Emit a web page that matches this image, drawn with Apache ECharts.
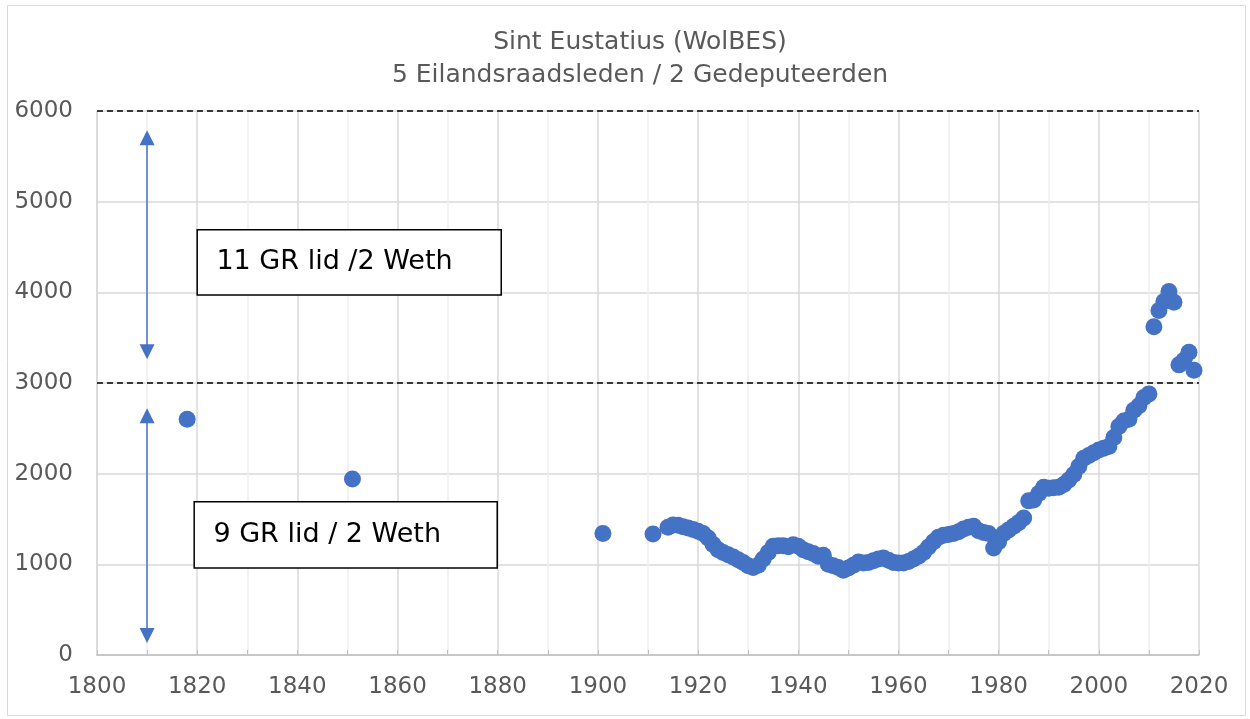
<!DOCTYPE html>
<html lang="nl">
<head>
    <meta charset="utf-8"/>
    <title>Sint Eustatius (WolBES)</title>
    <script src="https://cdn.jsdelivr.net/npm/echarts@6/dist/echarts.min.js"></script>
    <style>
        html, body { margin: 0; padding: 0; background: #fff; }
    </style>
</head>
<body>
<div id="main" style="width: 1250px;height: 719px;"></div>
<script type="text/javascript">

    // jaartallen en inwoneraantallen
    var years = [1818, 1851, 1901, 1911,
        1914, 1915, 1916, 1917, 1918, 1919, 1920, 1921, 1922, 1923, 1924, 1925, 1926, 1927, 1928, 1929,
        1930, 1931, 1932, 1933, 1934, 1935, 1936, 1937, 1938, 1939, 1940, 1941, 1942, 1943, 1944, 1945,
        1946, 1947, 1948, 1949, 1950, 1951, 1952, 1953, 1954, 1955, 1956, 1957, 1958, 1959, 1960, 1961,
        1962, 1963, 1964, 1965, 1966, 1967, 1968, 1969, 1970, 1971, 1972, 1973, 1974, 1975, 1976, 1977,
        1978, 1979, 1980, 1981, 1982, 1983, 1984, 1985, 1986, 1987, 1988, 1989, 1990, 1991, 1992, 1993,
        1994, 1995, 1996, 1997, 1998, 1999, 2000, 2001, 2002, 2003, 2004, 2005, 2006, 2007, 2008, 2009,
        2010, 2011, 2012, 2013, 2014, 2015, 2016, 2017, 2018, 2019];
    var inwoners = [2600, 1940, 1340, 1335,
        1410, 1435, 1430, 1415, 1400, 1385, 1365, 1340, 1290, 1220, 1160, 1130, 1105, 1080, 1050, 1020,
        985, 965, 990, 1060, 1130, 1200, 1205, 1205, 1195, 1215, 1200, 1160, 1140, 1120, 1090, 1100,
        1000, 985, 965, 935, 960, 990, 1025, 1015, 1020, 1040, 1060, 1070, 1045, 1020, 1015, 1015,
        1030, 1060, 1090, 1130, 1190, 1250, 1300, 1320, 1330, 1340, 1360, 1390, 1410, 1420, 1370, 1350,
        1340, 1180, 1250, 1340, 1380, 1420, 1460, 1510, 1700, 1710, 1780, 1850, 1840, 1845, 1850, 1880,
        1930, 1990, 2080, 2170, 2200, 2230, 2260, 2280, 2300, 2400, 2520, 2580, 2600, 2700, 2750, 2840,
        2880, 3620, 3800, 3900, 4010, 3890, 3200, 3250, 3340, 3140];

    // grenzen aantal raadsleden
    var grenzen = [3000, 6000];

    var myChart = echarts.init(document.getElementById('main'));

    var points = [];
    for (var i = 0; i < years.length; i++) {
        points.push([years[i], inwoners[i]]);
    }

    var labelFont = 'DejaVu Sans';

    var option = {
        animation: false,
        title: {
            text: 'Sint Eustatius (WolBES)\n5 Eilandsraadsleden / 2 Gedeputeerden',
            left: 635,
            textAlign: 'center',
            top: 21,
            textStyle: {
                fontFamily: labelFont,
                fontSize: 25,
                fontWeight: 'normal',
                color: '#595959',
                lineHeight: 33
            }
        },
        graphic: [{
            type: 'rect',
            shape: {x: 7.5, y: 5.5, width: 1238, height: 710},
            style: {fill: 'none', stroke: '#D9D9D9', lineWidth: 1},
            silent: true
        }],
        grid: {
            left: 97,
            right: 51,
            top: 111,
            bottom: 64
        },
        xAxis: {
            type: 'value',
            min: 1800,
            max: 2020,
            interval: 20,
            axisLine: {show: true, lineStyle: {color: '#BFBFBF', width: 1.5}},
            axisTick: {show: true, inside: true, length: 5, lineStyle: {color: '#BFBFBF'}},
            minorTick: {show: true, splitNumber: 2, length: 5, lineStyle: {color: '#BFBFBF'}},
            minorSplitLine: {show: true, lineStyle: {color: '#EEEEEE', width: 1.5}},
            splitLine: {show: true, lineStyle: {color: '#D9D9D9', width: 1.5}},
            axisLabel: {
                fontFamily: labelFont,
                fontSize: 23,
                color: '#595959',
                margin: 21,
                formatter: function (v) { return String(v); }
            }
        },
        yAxis: {
            type: 'value',
            min: 0,
            max: 6000,
            interval: 1000,
            axisLine: {show: true, lineStyle: {color: '#D9D9D9', width: 1.5}},
            axisTick: {show: false},
            splitLine: {show: true, lineStyle: {color: '#D9D9D9', width: 1.5}},
            axisLabel: {
                fontFamily: labelFont,
                fontSize: 23,
                color: '#595959',
                margin: 24,
                formatter: function (v) { return String(v); }
            }
        },
        series: [{
            type: 'scatter',
            data: points,
            symbolSize: 17,
            itemStyle: {color: '#4472C4', opacity: 1},
            markLine: {
                silent: true,
                symbol: 'none',
                label: {show: false},
                data: [
                    {yAxis: grenzen[0], lineStyle: {color: '#000', type: [6, 4], width: 1.5}},
                    {yAxis: grenzen[1], lineStyle: {color: '#000', type: [6, 4], width: 1.5}},
                    [
                        {coord: [1810, 5705], symbol: 'triangle', symbolSize: [15, 15]},
                        {coord: [1810, 3345], symbol: 'triangle', symbolSize: [15, 15],
                            lineStyle: {color: '#4472C4', type: 'solid', width: 1.5}}
                    ],
                    [
                        {coord: [1810, 2640], symbol: 'triangle', symbolSize: [15, 15]},
                        {coord: [1810, 215], symbol: 'triangle', symbolSize: [15, 15],
                            lineStyle: {color: '#4472C4', type: 'solid', width: 1.5}}
                    ]
                ],
                lineStyle: {color: '#4472C4', type: 'solid', width: 1.5}
            },
            markArea: {
                silent: true,
                itemStyle: {color: '#fff', borderColor: '#000', borderWidth: 1.5, opacity: 1},
                label: {
                    show: true,
                    position: 'insideLeft',
                    distance: 20,
                    fontFamily: labelFont,
                    fontSize: 27,
                    color: '#000',
                    padding: [0, 0, 10, 0]
                },
                data: [
                    [{name: '11 GR lid /2 Weth', coord: [1820, 4690]}, {coord: [1880.7, 3970]}],
                    [{name: '9 GR lid / 2 Weth', coord: [1819.4, 1690]}, {coord: [1879.9, 960]}]
                ]
            }
        }]
    };

    myChart.setOption(option);
</script>
</body>
</html>
